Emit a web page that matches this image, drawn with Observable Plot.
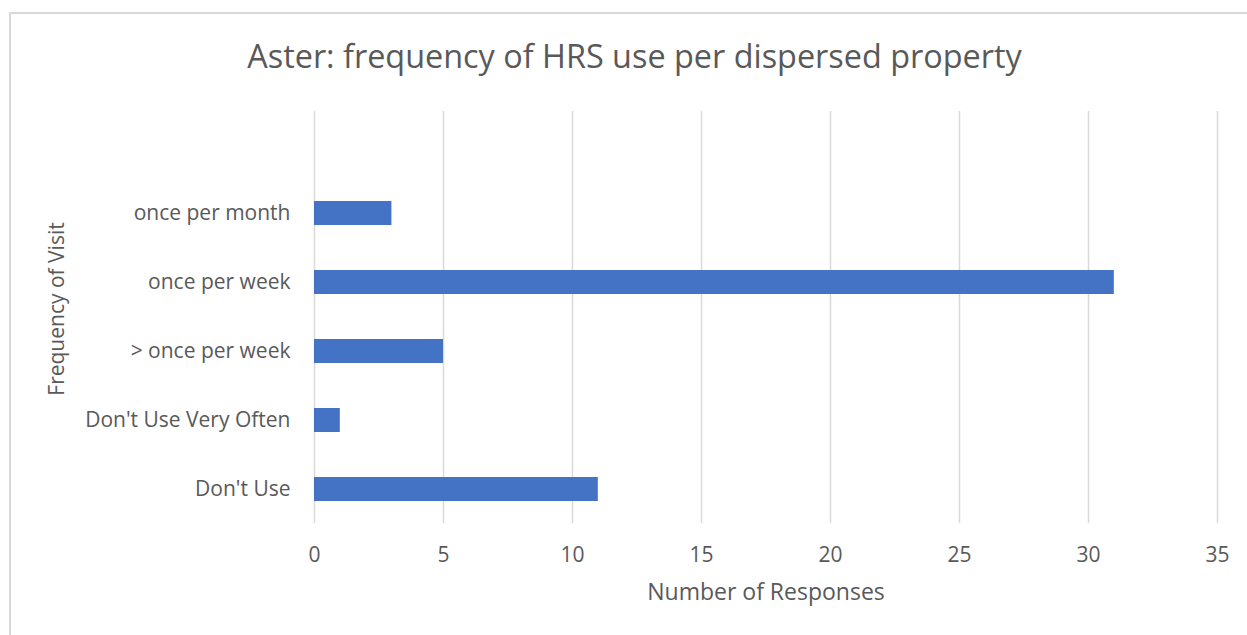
<!DOCTYPE html>
<html>
<head>
<meta charset="utf-8">
<script src="https://cdn.jsdelivr.net/npm/d3@7"></script>
<script src="https://cdn.jsdelivr.net/npm/@observablehq/plot@0.6"></script>
<style>
  html, body { margin: 0; padding: 0; background: #fff; overflow: hidden; }
  #wrap { position: relative; width: 1247px; height: 635px; overflow: hidden; }
  #border { position: absolute; left: 9px; top: 12px; width: 1300px; height: 700px;
            border-left: 2px solid #d9d9d9; border-top: 2px solid #d9d9d9; box-sizing: border-box; }
  #title { position: absolute; left: 0; width: 1269px; top: 35px; height: 40px; line-height: 40px;
           text-align: center; font-family: "Open Sans", sans-serif; font-size: 32.4px; color: #595959; }
  #chart { position: absolute; left: 0; top: 0; }
</style>
</head>
<body>
<div id="wrap">
  <div id="border"></div>
  <div id="chart"></div>
  <div id="title">Aster: frequency of HRS use per dispersed property</div>
</div>
<script>
const categories = ["once per month", "once per week", "> once per week", "Don't Use Very Often", "Don't Use"];
const responses = [3, 31, 5, 1, 11];
const xTicks = [0, 5, 10, 15, 20, 25, 30, 35];
const xLabel = "Number of Responses";
const yLabel = "Frequency of Visit";

const data = categories.map((c, i) => ({category: c, value: responses[i]}));

const chart = Plot.plot({
  width: 1247,
  height: 635,
  marginLeft: 314,
  marginRight: 30,
  marginTop: 111,
  marginBottom: 112,
  style: {fontFamily: "'Open Sans', sans-serif", fontSize: "21px", color: "#595959", background: "transparent"},
  x: {domain: [0, 35]},
  y: {domain: categories, range: [178.5, 523.5], paddingInner: 0.65, paddingOuter: 0.325},
  marks: [
    Plot.gridX(xTicks, {stroke: "#d9d9d9", strokeOpacity: 1, strokeWidth: 1.5}),
    Plot.barX(data, {x: "value", y: "category", fill: "#4472C4"}),
    Plot.axisX(xTicks, {tickSize: 0, tickPadding: 24, label: null, fontSize: 21}),
    Plot.axisY({tickSize: 0, tickPadding: 24, label: null, fontSize: 21}),
    Plot.text([xLabel], {text: d => d, frameAnchor: "bottom", textAnchor: "middle", dy: 76, fontSize: 23, fill: "#595959"}),
    Plot.text([yLabel], {text: d => d, frameAnchor: "left", textAnchor: "middle", dx: -257, dy: -8.5, rotate: -90, fontSize: 21, fill: "#595959"})
  ]
});
document.getElementById("chart").appendChild(chart);
</script>
</body>
</html>
